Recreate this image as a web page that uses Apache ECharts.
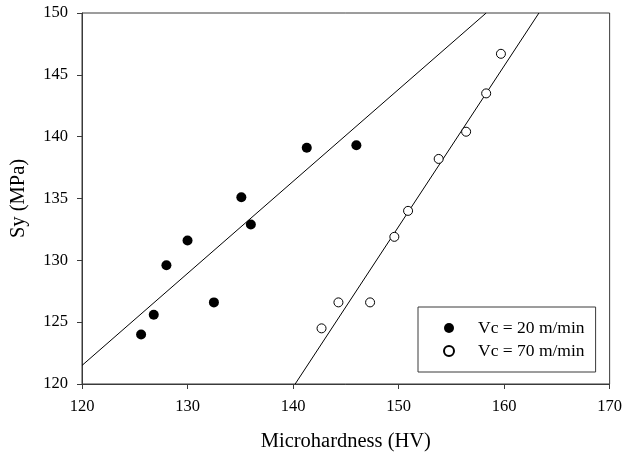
<!DOCTYPE html>
<html>
<head>
<meta charset="utf-8">
<script src="https://cdn.jsdelivr.net/npm/echarts@6/dist/echarts.min.js"></script>
<style>
html,body{margin:0;padding:0;background:#fff;}
#chart{width:625px;height:459px;}
</style>
</head>
<body>
<div id="chart"></div>
<script>
// Data
const hv20 = [125.6, 126.8, 128.0, 130.0, 132.5, 135.1, 136.0, 141.3, 146.0];
const sy20 = [124.0, 125.6, 129.6, 131.6, 126.6, 135.1, 132.9, 139.1, 139.3];
const hv70 = [142.7, 144.3, 147.3, 149.6, 150.9, 153.8, 156.4, 158.3, 159.7];
const sy70 = [124.5, 126.6, 126.6, 131.9, 134.0, 138.2, 140.4, 143.5, 146.7];
// Fitted trend lines (end points)
const fit20X = [120, 158.3];
const fit20Y = [121.5, 150];
const fit70X = [140.2, 163.3];
const fit70Y = [120, 150];
const seriesNames = ['Vc = 20 m/min', 'Vc = 70 m/min'];
const xTitle = 'Microhardness (HV)';
const yTitle = 'Sy (MPa)';

const zip = (a, b) => a.map((v, i) => [v, b[i]]);
const font = '"Liberation Serif", "Times New Roman", serif';
const axisColor = '#3a3a3a';

const chart = echarts.init(document.getElementById('chart'), null, {renderer: 'canvas'});
chart.setOption({
  animation: false,
  backgroundColor: '#fff',
  grid: {left: 81, right: 15, top: 13, bottom: 75, show: true, borderColor: axisColor, borderWidth: 1, backgroundColor: 'transparent'},
  xAxis: {
    type: 'value', min: 120, max: 170, interval: 10,
    name: xTitle, nameLocation: 'middle', nameGap: 47,
    nameTextStyle: {fontFamily: font, fontSize: 20.5, color: '#000'},
    axisLine: {show: true, lineStyle: {color: axisColor, width: 1}},
    axisTick: {show: true, inside: false, length: 5, lineStyle: {color: axisColor}},
    axisLabel: {fontFamily: font, fontSize: 16.5, color: '#000', margin: 14},
    splitLine: {show: false}
  },
  yAxis: {
    type: 'value', min: 120, max: 150, interval: 5,
    name: yTitle, nameLocation: 'middle', nameGap: 53,
    nameTextStyle: {fontFamily: font, fontSize: 20.5, color: '#000'},
    axisLine: {show: true, lineStyle: {color: axisColor, width: 1}},
    axisTick: {show: true, inside: false, length: 5, lineStyle: {color: axisColor}},
    axisLabel: {fontFamily: font, fontSize: 16.5, color: '#000', margin: 14},
    splitLine: {show: false}
  },
  legend: {
    data: seriesNames,
    orient: 'vertical',
    left: 418, top: 307,
    padding: [12, 11, 12, 25],
    itemWidth: 10, itemHeight: 10, itemGap: 5,
    borderColor: axisColor, borderWidth: 1, borderRadius: 0,
    backgroundColor: '#fff',
    textStyle: {fontFamily: font, fontSize: 17.5, color: '#000', padding: [0, 0, 0, 19]}
  },
  series: [
    {
      type: 'line', data: zip(fit20X, fit20Y), symbol: 'none', silent: true,
      lineStyle: {color: '#000', width: 1}, z: 1
    },
    {
      type: 'line', data: zip(fit70X, fit70Y), symbol: 'none', silent: true,
      lineStyle: {color: '#000', width: 1}, z: 1
    },
    {
      name: seriesNames[0], type: 'scatter', data: zip(hv20, sy20),
      symbol: 'circle', symbolSize: 10,
      itemStyle: {color: '#000', borderColor: '#000', borderWidth: 0, opacity: 1}, z: 3
    },
    {
      name: seriesNames[1], type: 'scatter', data: zip(hv70, sy70),
      symbol: 'circle', symbolSize: 9,
      itemStyle: {color: '#fff', borderColor: '#000', borderWidth: 1, opacity: 1}, z: 3
    }
  ]
});
</script>
</body>
</html>
